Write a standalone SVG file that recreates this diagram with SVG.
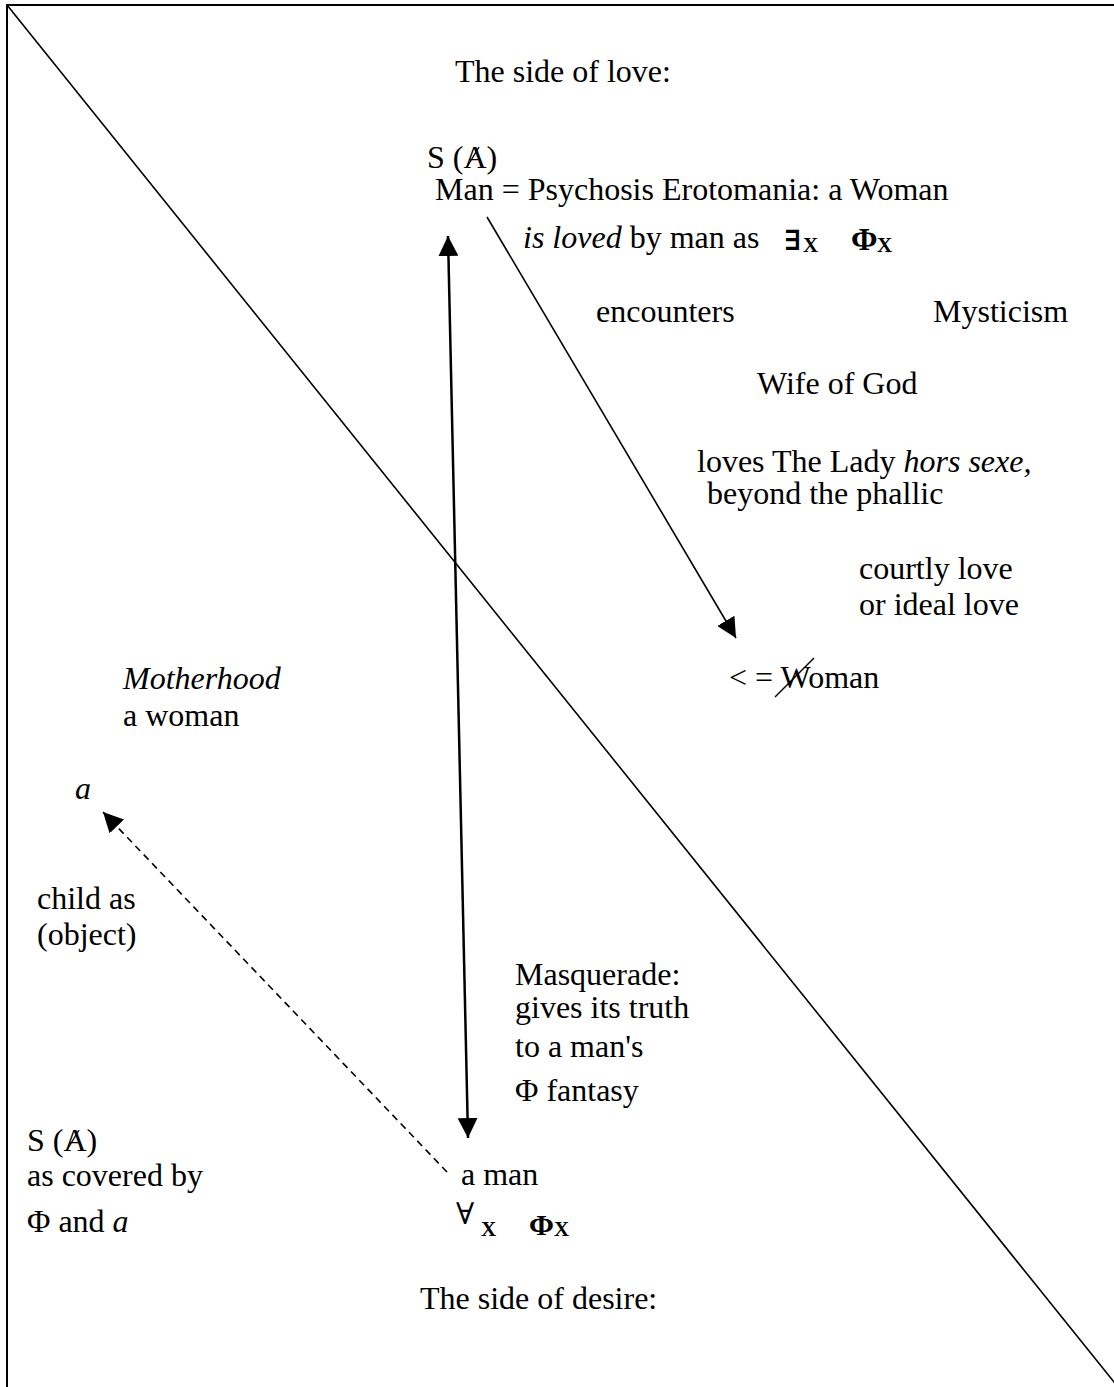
<svg xmlns="http://www.w3.org/2000/svg" width="1114" height="1387" viewBox="0 0 1114 1387">
<defs>
<style>
text{font-family:"Liberation Serif","Times New Roman","DejaVu Serif",serif;font-size:32px;fill:#000}
.i{font-style:italic}
.b{font-weight:bold}
.q{font-size:28px}
.sub{font-size:21px;font-weight:bold}
.ln{stroke:#000;fill:none}
</style>
<marker id="ah" viewBox="0 0 10 10" refX="10" refY="5" markerWidth="20" markerHeight="20" markerUnits="userSpaceOnUse" orient="auto-start-reverse">
<path d="M0,0 L10,5 L0,10 Z" fill="#000"/>
</marker>
</defs>
<rect width="1114" height="1387" fill="#fff"/>
<g id="frame">
<path class="ln" stroke-width="2" d="M7,1387 V5 H1114"/>
<path class="ln" stroke-width="1.6" d="M7,5 L1118,1387"/>
</g>
<g id="connectors">
<line class="ln" stroke-width="2.5" x1="448" y1="236" x2="468" y2="1138" marker-start="url(#ah)" marker-end="url(#ah)"/>
<line class="ln" stroke-width="1.6" x1="487" y1="217" x2="736" y2="638" marker-end="url(#ah)"/>
<line class="ln" stroke-width="1.6" stroke-dasharray="7,5" x1="447" y1="1172" x2="103" y2="812" marker-end="url(#ah)"/>
</g>
<g id="title-love"><text x="455" y="82">The side of love:</text></g>
<g id="sa-top">
<text x="427" y="168">S (A)</text>
<line class="ln" stroke-width="1.4" x1="467" y1="167" x2="479" y2="147"/>
</g>
<g id="man-psychosis">
<text x="435" y="200">Man = Psychosis Erotomania: a Woman</text>
<text x="523" y="248"><tspan class="i">is loved</tspan> by man as</text>
<text x="784" y="250" class="q b">∃</text><text x="803" y="252" class="sub">X</text>
<text x="851" y="250" class="b">Φ</text><text x="877" y="252" class="sub">X</text>
</g>
<g id="encounters"><text x="596" y="322">encounters</text></g>
<g id="mysticism"><text x="933" y="322">Mysticism</text></g>
<g id="wife"><text x="757" y="394">Wife of God</text></g>
<g id="lady">
<text x="697" y="472">loves The Lady <tspan class="i">hors sexe,</tspan></text>
<text x="707" y="504">beyond the phallic</text>
</g>
<g id="courtly">
<text x="859" y="579">courtly love</text>
<text x="859" y="615">or ideal love</text>
</g>
<g id="woman">
<text x="729" y="688">&lt; = Woman</text>
<line class="ln" stroke-width="1.4" x1="775" y1="697" x2="814" y2="658"/>
</g>
<g id="motherhood">
<text x="123" y="689" class="i">Motherhood</text>
<text x="123" y="726">a woman</text>
</g>
<g id="obj-a"><text x="75" y="799" class="i">a</text></g>
<g id="child">
<text x="37" y="909">child as</text>
<text x="37" y="945">(object)</text>
</g>
<g id="masquerade">
<text x="515" y="985">Masquerade:</text>
<text x="515" y="1018">gives its truth</text>
<text x="515" y="1057">to a man's</text>
<text x="515" y="1101">Φ fantasy</text>
</g>
<g id="sa-bottom">
<text x="27" y="1151">S (A)</text>
<line class="ln" stroke-width="1.4" x1="67" y1="1150" x2="79" y2="1130"/>
<text x="27" y="1186">as covered by</text>
<text x="27" y="1232">Φ and <tspan class="i">a</tspan></text>
</g>
<g id="a-man">
<text x="461" y="1185">a man</text>
<text x="456" y="1224" style="font-size:30px">∀</text><text x="481" y="1236" class="sub">X</text>
<text x="529" y="1235" class="b" style="font-size:30px">Φ</text><text x="554" y="1236" class="sub">X</text>
</g>
<g id="title-desire"><text x="420" y="1309">The side of desire:</text></g>
</svg>
